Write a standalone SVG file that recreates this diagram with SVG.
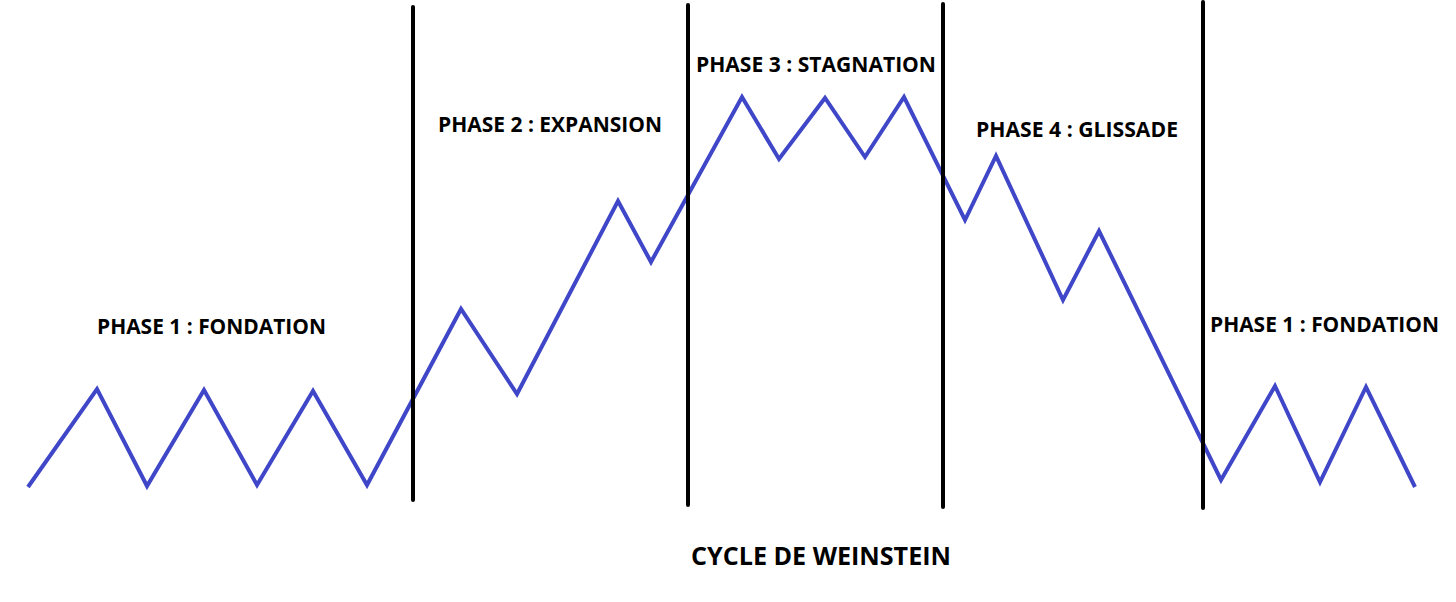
<svg xmlns="http://www.w3.org/2000/svg" width="1456" height="602" viewBox="0 0 1456 602">
<style>
.sep{stroke:#000;stroke-width:4;stroke-linecap:round}
.curve{fill:none;stroke:#3F47C8;stroke-width:4;stroke-linejoin:miter;stroke-linecap:butt}
.lbl{font-family:"Open Sans","Noto Sans",sans-serif;font-weight:700;font-size:21px;fill:#000}
.title{font-family:"Open Sans","Noto Sans",sans-serif;font-weight:700;font-size:25px;fill:#000}
</style>
<rect width="1456" height="602" fill="#fff"/>
<g id="connectors">
<polyline class="curve" points="28,487 97,389 147,486 204,390 257,485 313,391 367,485 461,309 517,394 618,201 651,262 742,97 779,159 825,98 865,157 904,97 965,220 996,156 1063,300 1099,231 1221,480 1275,386 1320,482 1366,387 1415,487"/>
</g>
<g id="separators">
<line class="sep" x1="413" y1="7" x2="413" y2="500"/>
<line class="sep" x1="688" y1="5" x2="688" y2="505"/>
<line class="sep" x1="943" y1="4" x2="943" y2="507"/>
<line class="sep" x1="1203" y1="2" x2="1203" y2="508"/>
</g>
<g id="phase1">
<text class="lbl" x="97" y="334" textLength="229" lengthAdjust="spacingAndGlyphs">PHASE 1 : FONDATION</text>
</g>
<g id="phase2">
<text class="lbl" x="438" y="132" textLength="224" lengthAdjust="spacingAndGlyphs">PHASE 2 : EXPANSION</text>
</g>
<g id="phase3">
<text class="lbl" x="696" y="72" textLength="240" lengthAdjust="spacingAndGlyphs">PHASE 3 : STAGNATION</text>
</g>
<g id="phase4">
<text class="lbl" x="976" y="137" textLength="202" lengthAdjust="spacingAndGlyphs">PHASE 4 : GLISSADE</text>
</g>
<g id="phase1b">
<text class="lbl" x="1210" y="332" textLength="229" lengthAdjust="spacingAndGlyphs">PHASE 1 : FONDATION</text>
</g>
<g id="title">
<text class="title" x="691" y="565" textLength="260" lengthAdjust="spacingAndGlyphs">CYCLE DE WEINSTEIN</text>
</g>
</svg>
